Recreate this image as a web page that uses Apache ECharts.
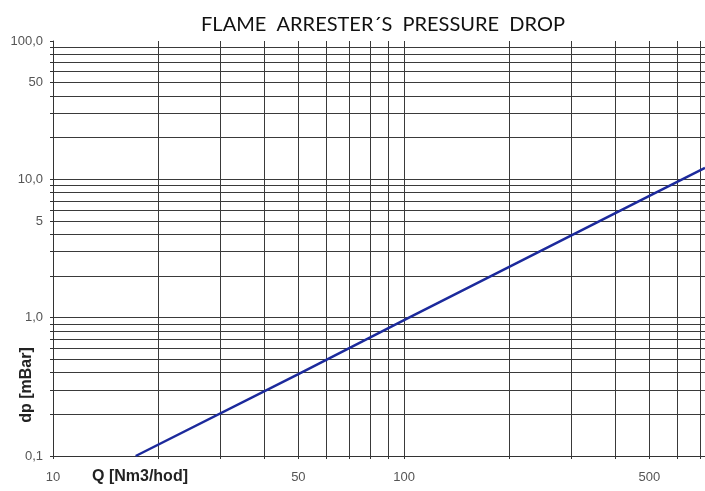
<!DOCTYPE html>
<html>
<head>
<meta charset="utf-8">
<script src="https://cdn.jsdelivr.net/npm/echarts@6/dist/echarts.min.js"></script>
<style>
html, body { margin: 0; padding: 0; background: #fff; }
#chart { width: 705px; height: 491px; }
</style>
</head>
<body>
<div id="chart"></div>
<script>
// flow Q [Nm3/hod] and pressure drop dp [mBar]
var flow = [17.2, 50, 100, 500, 720];
var drop = [0.1, 0.39, 0.96, 7.6, 12.1];

// grid / tick positions
var xTicks = [10, 20, 30, 40, 50, 60, 70, 80, 90, 100, 200, 300, 400, 500, 600, 700];
var xLabels = [10, 50, 100, 500];
var yTicks = [0.1, 0.2, 0.3, 0.4, 0.5, 0.6, 0.7, 0.8, 0.9,
	1, 2, 3, 4, 5, 6, 7, 8, 9,
	10, 20, 30, 40, 50, 60, 70, 80, 90, 100];
var yLabels = [0.1, 1, 5, 10, 50, 100];
var yLabelText = ['0,1', '1,0', '5', '10,0', '50', '100,0'];

var points = flow.map(function(q, i) {
	return [q, drop[i]];
});

var gridColor = '#3a3a3a';

var myChart = echarts.init(document.getElementById('chart'));
myChart.setOption({
	animation: false,
	title: {
		text: 'FLAME  ARRESTER´S  PRESSURE  DROP',
		left: 378,
		top: 10,
		textAlign: 'center',
		textStyle: {
			fontFamily: 'Lato',
			fontWeight: 'normal',
			fontSize: 20,
			color: '#111'
		}
	},
	grid: {
		left: 53,
		right: 0,
		top: 41,
		bottom: 35
	},
	xAxis: {
		type: 'log',
		logBase: 10,
		min: 10,
		max: 720,
		axisLine: { lineStyle: { color: '#333', width: 1 } },
		axisTick: {
			customValues: xTicks,
			length: 3,
			lineStyle: { color: '#333' }
		},
		axisLabel: {
			customValues: xLabels,
			margin: 15,
			fontFamily: 'Liberation Sans',
			fontSize: 13,
			color: '#555'
		},
		splitLine: {
			show: true,
			lineStyle: { color: gridColor, width: 1 }
		},
		minorTick: { show: false }
	},
	yAxis: {
		type: 'log',
		logBase: 10,
		min: 0.1,
		max: 100,
		axisLine: { show: true, lineStyle: { color: '#333', width: 1 } },
		axisTick: {
			show: true,
			customValues: yTicks,
			length: 3,
			lineStyle: { color: '#333' }
		},
		axisLabel: {
			customValues: yLabels,
			margin: 10,
			fontFamily: 'Liberation Sans',
			fontSize: 13,
			color: '#555',
			formatter: function(v) {
				for (var i = 0; i < yLabels.length; i++) {
					if (Math.abs(v - yLabels[i]) < yLabels[i] * 1e-6) return yLabelText[i];
				}
				return '';
			}
		},
		splitLine: {
			show: true,
			showMaxLine: false,
			lineStyle: { color: gridColor, width: 1 }
		}
	},
	graphic: [{
		type: 'text',
		left: 92,
		top: 469,
		style: {
			text: 'Q [Nm3/hod]',
			font: 'bold 16px "Liberation Sans"',
			fill: '#222'
		}
	}, {
		type: 'text',
		x: 27,
		y: 385,
		rotation: Math.PI / 2,
		style: {
			text: 'dp [mBar]',
			font: 'bold 16px "Liberation Sans"',
			fill: '#222',
			align: 'center',
			verticalAlign: 'middle'
		}
	}],
	series: [{
		type: 'line',
		data: points,
		symbol: 'none',
		lineStyle: { color: '#1c2a9c', width: 2.5 }
	}]
});
</script>
</body>
</html>
